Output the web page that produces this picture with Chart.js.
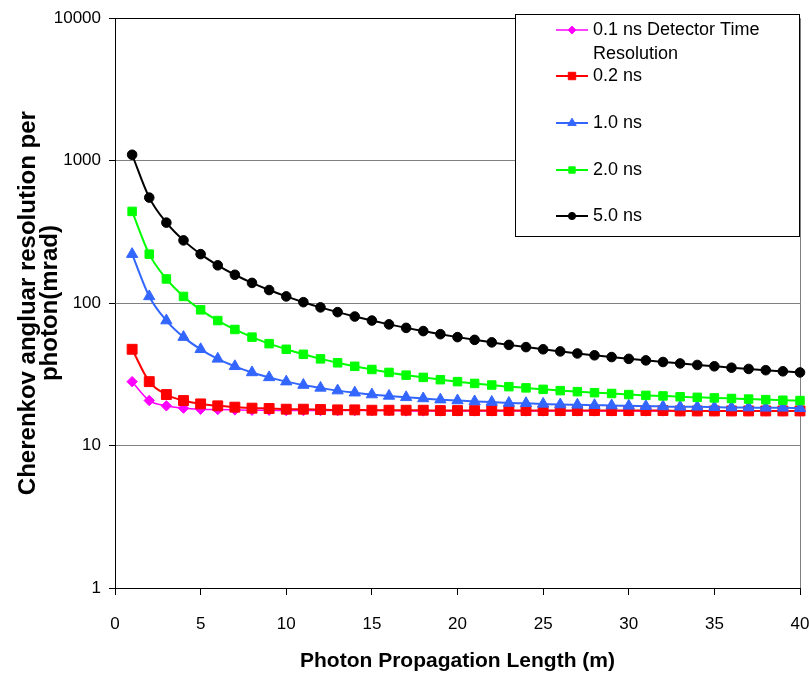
<!DOCTYPE html>
<html>
<head>
<meta charset="utf-8">
<script src="https://cdn.jsdelivr.net/npm/chart.js@4/dist/chart.umd.min.js"></script>
<style>
html,body{margin:0;padding:0;background:#fff;}
#wrap{width:809px;height:675px;position:relative;}
</style>
</head>
<body>
<div id="wrap"><canvas id="c" width="809" height="675"></canvas></div>
<script>
// ---- data ----
const lengths = [1,2,3,4,5,6,7,8,9,10,11,12,13,14,15,16,17,18,19,20,21,22,23,24,25,26,27,28,29,30,31,32,33,34,35,36,37,38,39,40];

const res01ns = [28.1,20.7,19.0,18.3,18.0,17.9,17.8,17.7,17.7,17.6,17.6,17.6,17.6,17.6,17.6,17.6,17.5,17.5,17.5,17.5,17.5,17.5,17.5,17.5,17.5,17.5,17.5,17.5,17.5,17.5,17.5,17.5,17.5,17.5,17.5,17.5,17.5,17.5,17.5,17.5];
const res02ns = [47.4,28.1,22.8,20.7,19.6,19.0,18.6,18.3,18.2,18.0,18.0,17.9,17.8,17.8,17.7,17.7,17.7,17.7,17.6,17.6,17.6,17.6,17.6,17.6,17.6,17.6,17.6,17.6,17.6,17.6,17.6,17.6,17.5,17.5,17.5,17.5,17.5,17.5,17.5,17.5];
const res10ns = [220.7,111.4,75.4,57.7,47.4,40.6,36.0,32.6,30.1,28.1,26.6,25.4,24.3,23.5,22.8,22.3,21.8,21.4,21.0,20.7,20.4,20.2,19.9,19.8,19.6,19.4,19.3,19.2,19.1,19.0,18.9,18.8,18.7,18.7,18.6,18.5,18.5,18.4,18.4,18.3];
const res20ns = [440.3,220.7,147.7,111.4,89.7,75.4,65.3,57.7,51.9,47.4,43.7,40.6,38.1,36.0,34.2,32.6,31.2,30.1,29.0,28.1,27.3,26.6,25.9,25.4,24.8,24.3,23.9,23.5,23.2,22.8,22.5,22.3,22.0,21.8,21.6,21.4,21.2,21.0,20.8,20.7];
const res50ns = [1100,550.3,367.1,275.6,220.7,184.2,158.1,138.6,123.5,111.4,101.5,93.3,86.4,80.5,75.4,70.9,67.0,63.6,60.5,57.7,55.2,53.0,50.9,49.1,47.4,45.8,44.3,43.0,41.8,40.6,39.6,38.6,37.7,36.8,36.0,35.2,34.5,33.8,33.2,32.6];

const seriesLabels = ['0.1 ns Detector Time Resolution','0.2 ns','1.0 ns','2.0 ns','5.0 ns'];
const legendText = [['0.1 ns Detector Time','Resolution'],['0.2 ns'],['1.0 ns'],['2.0 ns'],['5.0 ns']];
const yTickValues = [1,10,100,1000,10000];
const xTickStep = 5;
const xTitle = 'Photon Propagation Length (m)';
const yTitle = ['Cherenkov angluar resolution per','photon(mrad)'];

// ---- styling ----
const FONT = '"Liberation Sans", Arial, Helvetica, sans-serif';
const styles = [
  {color:'#FF00FF', style:'rectRot', radius:5.2, width:1.5, order:5},
  {color:'#FF0000', style:'rect',    radius:7,   width:2,   order:4},
  {color:'#3366FF', style:'triangle',radius:6.5, width:2,   order:3},
  {color:'#00FF00', style:'rect',    radius:6,   width:2,   order:2},
  {color:'#000000', style:'circle',  radius:4.8, width:2,   order:1}
];
const seriesValues = [res01ns,res02ns,res10ns,res20ns,res50ns];

const datasets = seriesValues.map((vals,i)=>({
  label: seriesLabels[i],
  data: lengths.map((x,j)=>({x:x, y:vals[j]})),
  borderColor: styles[i].color,
  backgroundColor: styles[i].color,
  pointBackgroundColor: styles[i].color,
  pointBorderColor: styles[i].color,
  pointStyle: styles[i].style,
  pointRadius: styles[i].radius,
  pointBorderWidth: 1,
  borderWidth: styles[i].width,
  cubicInterpolationMode: 'monotone',
  order: styles[i].order,
  clip: false
}));

function drawMarker(ctx, style, r, x, y){
  ctx.beginPath();
  if(style==='circle'){ ctx.arc(x,y,r,0,Math.PI*2); }
  else if(style==='rect'){ const s=r*Math.SQRT1_2; ctx.rect(x-s,y-s,2*s,2*s); }
  else if(style==='rectRot'){ ctx.moveTo(x-r,y); ctx.lineTo(x,y-r); ctx.lineTo(x+r,y); ctx.lineTo(x,y+r); ctx.closePath(); }
  else if(style==='triangle'){
    ctx.moveTo(x, y-r);
    ctx.lineTo(x+Math.cos(Math.PI/6)*r, y+Math.sin(Math.PI/6)*r);
    ctx.lineTo(x-Math.cos(Math.PI/6)*r, y+Math.sin(Math.PI/6)*r);
    ctx.closePath();
  }
  ctx.fill(); ctx.stroke();
}

const boxLegend = {
  id:'boxLegend',
  afterDraw(chart){
    const ctx = chart.ctx;
    ctx.save();
    const L=515.5, T=14.5, R=799.5, B=236.5;
    ctx.fillStyle='#fff'; ctx.fillRect(L,T,R-L,B-T);
    ctx.strokeStyle='#000'; ctx.lineWidth=1; ctx.strokeRect(L,T,R-L,B-T);
    const rows=[30,76,123,170,216];
    chart.data.datasets.forEach((ds,i)=>{
      const y=rows[i];
      ctx.strokeStyle=ds.borderColor; ctx.lineWidth=ds.borderWidth;
      ctx.beginPath(); ctx.moveTo(556,y); ctx.lineTo(588,y); ctx.stroke();
      ctx.fillStyle=ds.pointBackgroundColor; ctx.strokeStyle=ds.pointBorderColor; ctx.lineWidth=1;
      drawMarker(ctx, ds.pointStyle, ds.pointRadius*0.75, 572, y);
      ctx.fillStyle='#000';
      ctx.font='18px '+FONT;
      ctx.textAlign='left'; ctx.textBaseline='middle';
      legendText[i].forEach((line,k)=>{ ctx.fillText(line, 593, y + k*24); });
    });
    ctx.restore();
  }
};

new Chart(document.getElementById('c'), {
  type:'line',
  data:{ datasets: datasets },
  plugins:[boxLegend],
  options:{
    responsive:false,
    animation:false,
    devicePixelRatio:1,
    layout:{ padding:{left:0, right:9, top:15, bottom:0} },
    plugins:{ legend:{display:false}, tooltip:{enabled:false}, title:{display:false} },
    scales:{
      x:{
        type:'linear', min:0, max:40,
        afterFit: s => { s.height = 87; s.paddingRight = 0; s.paddingLeft = 0; },
        ticks:{ stepSize:xTickStep, font:{family:FONT,size:17}, color:'#000', padding:19, maxRotation:0, autoSkip:false },
        grid:{
          color: c => (c.tick && c.tick.value===40) ? '#808080' : 'rgba(0,0,0,0)',
          tickColor:'#000', tickLength:7, lineWidth:1
        },
        border:{ display:true, color:'#000', width:1 },
        title:{ display:true, text:xTitle, color:'#000', font:{family:FONT, size:21, weight:'bold', lineHeight:1.2}, padding:{top:0, bottom:1} }
      },
      y:{
        type:'logarithmic', min:1, max:10000,
        afterBuildTicks: s => { s.ticks = yTickValues.map(v=>({value:v})); },
        afterFit: s => { s.width = 115; },
        ticks:{ font:{family:FONT,size:17}, color:'#000', padding:8, callback: v => String(v) },
        grid:{
          color: c => {
            if(!c.tick) return '#808080';
            if(c.tick.value===10000) return '#000';
            if(c.tick.value===1) return 'rgba(0,0,0,0)';
            return '#808080';
          },
          tickColor:'#000', tickLength:6, lineWidth:1
        },
        border:{ display:true, color:'#000', width:1 },
        title:{ display:true, text:yTitle, color:'#000', font:{family:FONT, size:24, weight:'bold', lineHeight:0.92}, padding:{top:17, bottom:0} }
      }
    }
  }
});
</script>
</body>
</html>
